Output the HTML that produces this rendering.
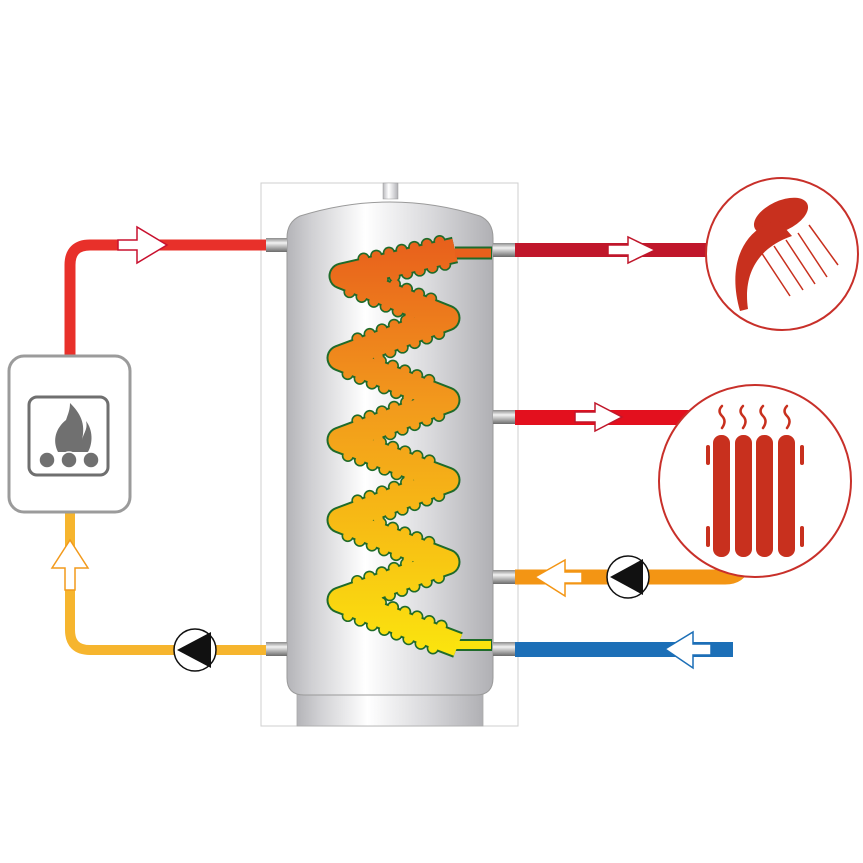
<!DOCTYPE html>
<html><head><meta charset="utf-8"><style>
html,body{margin:0;padding:0;background:#fff;width:863px;height:863px;overflow:hidden}
svg{display:block}
</style></head><body>
<svg id="s" width="863" height="863" viewBox="0 0 863 863" xmlns="http://www.w3.org/2000/svg">
<defs>
<linearGradient id="tank" x1="0" x2="1" y1="0" y2="0">
<stop offset="0" stop-color="#b4b4b8"/><stop offset="0.12" stop-color="#d0d0d3"/><stop offset="0.38" stop-color="#ffffff"/><stop offset="0.7" stop-color="#d9d9dc"/><stop offset="1" stop-color="#b0b0b4"/>
</linearGradient>
<linearGradient id="stub" x1="0" x2="0" y1="0" y2="1">
<stop offset="0" stop-color="#8a8a8a"/><stop offset="0.35" stop-color="#f2f2f2"/><stop offset="1" stop-color="#6a6a6a"/>
</linearGradient>
<linearGradient id="coil" gradientUnits="userSpaceOnUse" x1="0" y1="240" x2="0" y2="655">
<stop offset="0" stop-color="#e8601c"/><stop offset="0.4" stop-color="#f29a1c"/><stop offset="0.7" stop-color="#f7bd14"/><stop offset="1" stop-color="#fbe50e"/>
</linearGradient>
</defs>

<rect x="261" y="183" width="257" height="543" fill="#fff" stroke="#cfcfcf" stroke-width="1"/>
<rect x="383" y="183" width="15" height="16" fill="url(#tank)" stroke="#999" stroke-width="0.5"/>
<rect x="297" y="690" width="186" height="36" fill="url(#tank)" stroke="#aaa" stroke-width="0.8"/>
<path d="M287,238 Q287,222 300,216 Q390,188 480,216 Q493,222 493,238 L493,678 Q493,695 476,695 L304,695 Q287,695 287,678 Z" fill="url(#tank)" stroke="#9a9a9a" stroke-width="1"/>

<rect x="266" y="238" width="21" height="14" fill="url(#stub)"/>
<rect x="266" y="642" width="21" height="14" fill="url(#stub)"/>
<rect x="493" y="243" width="22" height="14" fill="url(#stub)"/>
<rect x="493" y="410" width="22" height="14" fill="url(#stub)"/>
<rect x="493" y="570" width="22" height="14" fill="url(#stub)"/>
<rect x="493" y="642" width="22" height="14" fill="url(#stub)"/>

<g id="coilg"></g>

<path d="M266,245 L90,245 Q70,245 70,265 L70,355" fill="none" stroke="#e8302a" stroke-width="11"/>
<path d="M118,240 L137,240 L137,227 L167,245 L137,263 L137,250 L118,250 Z" fill="#fff" stroke="#c8102e" stroke-width="1.5"/>
<path d="M70,512 L70,630 Q70,650 90,650 L266,650" fill="none" stroke="#f6b52e" stroke-width="10"/>
<path d="M65,590 L65,568 L52,568 L70,540 L88,568 L75,568 L75,590 Z" fill="#fff" stroke="#f29a1c" stroke-width="1.5"/>
<circle cx="195" cy="650" r="21" fill="#fff" stroke="#111" stroke-width="1.5"/>
<path d="M177,650 L211,632 L211,668 Z" fill="#111"/>

<rect x="9" y="356" width="121" height="156" rx="15" fill="#fff" stroke="#9b9b9b" stroke-width="3"/>
<rect x="29" y="397" width="79" height="78" rx="8" fill="#fff" stroke="#6f6f6f" stroke-width="3"/>
<path d="M70,403 C80,413 86,423 82,440 C84,432 88,429 86,421 C93,430 93,443 88,452 L58,452 C52,440 56,428 66,420 C68,414 70,410 70,403 Z" fill="#707070"/>
<circle cx="47" cy="460" r="8" fill="#707070" stroke="#fff" stroke-width="1.5"/>
<circle cx="69" cy="460" r="8" fill="#707070" stroke="#fff" stroke-width="1.5"/>
<circle cx="91" cy="460" r="8" fill="#707070" stroke="#fff" stroke-width="1.5"/>

<rect x="515" y="243" width="192" height="14" fill="#c0172b"/>
<path d="M608,245 L628,245 L628,237 L655,250 L628,263 L628,255 L608,255 Z" fill="#fff" stroke="#c0172b" stroke-width="1.5"/>
<rect x="515" y="410" width="175" height="15" fill="#e3101e"/>
<path d="M575,412 L595,412 L595,403 L622,417 L595,431 L595,422 L575,422 Z" fill="#fff" stroke="#c0172b" stroke-width="1.5"/>
<path d="M515,577 L725,577 Q740,577 742,565" fill="none" stroke="#f39514" stroke-width="15"/>
<path d="M582,572 L565,572 L565,560 L535,577 L565,596 L565,583 L582,583 Z" fill="#fff" stroke="#f39514" stroke-width="1.5"/>
<circle cx="628" cy="577" r="21" fill="#fff" stroke="#111" stroke-width="1.5"/>
<path d="M610,577 L643,559 L643,595 Z" fill="#111"/>
<rect x="515" y="642" width="218" height="15" fill="#1c6fb7"/>
<path d="M711,644 L693,644 L693,632 L665,649 L693,668 L693,655 L711,655 Z" fill="#fff" stroke="#1c6fb7" stroke-width="1.5"/>

<circle cx="782" cy="254" r="76" fill="#fff" stroke="#c8302a" stroke-width="2"/>
<ellipse cx="781" cy="216" rx="29" ry="15" transform="rotate(-25 781 216)" fill="#c8301e"/>
<path d="M778,220 C745,228 726,262 740,311 L748,309 C743,275 757,248 792,236 Z" fill="#c8301e"/>
<g stroke="#c8301e" stroke-width="1.5">
<line x1="761" y1="252" x2="790" y2="296"/>
<line x1="774" y1="246" x2="803" y2="290"/>
<line x1="786" y1="240" x2="815" y2="284"/>
<line x1="798" y1="233" x2="827" y2="277"/>
<line x1="809" y1="225" x2="838" y2="265"/>
</g>

<circle cx="755" cy="481" r="96" fill="#fff" stroke="#c8302a" stroke-width="2"/>
<g fill="#c8301e">
<rect x="713" y="435" width="17" height="122" rx="8"/>
<rect x="735" y="435" width="17" height="122" rx="8"/>
<rect x="756" y="435" width="17" height="122" rx="8"/>
<rect x="778" y="435" width="17" height="122" rx="8"/>
<rect x="706" y="445" width="4" height="20" rx="2"/>
<rect x="706" y="526" width="4" height="21" rx="2"/>
<rect x="800" y="445" width="4" height="20" rx="2"/>
<rect x="800" y="526" width="4" height="21" rx="2"/>
</g>
<g fill="none" stroke="#c8301e" stroke-width="2.5" stroke-linecap="round">
<path d="M722,406 q-5,5 0,10 q5,5 0,12"/>
<path d="M743,406 q-5,5 0,10 q5,5 0,12"/>
<path d="M763,406 q-5,5 0,10 q5,5 0,12"/>
<path d="M787,406 q-5,5 0,10 q5,5 0,12"/>
</g>
</svg>
<script>
(function(){
var pts=[[455,250],[342,276],[447,318],[340,358],[447,400],[340,440],[447,480],[340,520],[447,562],[340,600],[458,645]];
var NS="http://www.w3.org/2000/svg",g=document.getElementById("coilg");
function el(t,a){var e=document.createElementNS(NS,t);for(var k in a)e.setAttribute(k,a[k]);return e;}
var d="M"+pts.map(function(p){return p.join(",")}).join(" L");
var teeth=[];
for(var i=0;i<pts.length-1;i++){
 var a=pts[i],b=pts[i+1],dx=b[0]-a[0],dy=b[1]-a[1],L=Math.hypot(dx,dy),ux=dx/L,uy=dy/L,nx=-uy,ny=ux;
 var n=Math.floor(L/13);
 for(var j=1;j<n;j++){var t=j*13;var cx=a[0]+ux*t,cy=a[1]+uy*t;
  teeth.push([cx+nx*12,cy+ny*12]);teeth.push([cx-nx*12,cy-ny*12]);}
}
var outer=el("g",{fill:"#1f6b2a",stroke:"none"});
outer.appendChild(el("path",{d:d,fill:"none",stroke:"#1f6b2a","stroke-width":27,"stroke-linejoin":"round"}));
outer.appendChild(el("path",{d:"M455,253 L492,253",stroke:"#1f6b2a","stroke-width":13}));
outer.appendChild(el("path",{d:"M455,645 L492,645",stroke:"#1f6b2a","stroke-width":12}));
teeth.forEach(function(p){outer.appendChild(el("circle",{cx:p[0],cy:p[1],r:6.2}))});
g.appendChild(outer);
var inner=el("g",{fill:"url(#coil)"});
inner.appendChild(el("path",{d:d,fill:"none",stroke:"url(#coil)","stroke-width":23,"stroke-linejoin":"round"}));
inner.appendChild(el("path",{d:"M455,253 L491,253",stroke:"#e8601c","stroke-width":9}));
inner.appendChild(el("path",{d:"M455,645 L491,645",stroke:"#fbe30e","stroke-width":8}));
teeth.forEach(function(p){inner.appendChild(el("circle",{cx:p[0],cy:p[1],r:4.6}))});
g.appendChild(inner);
})();
</script>
</body></html>
